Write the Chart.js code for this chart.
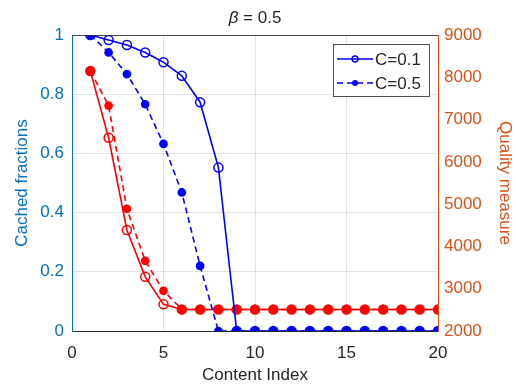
<!DOCTYPE html>
<html>
<head>
<meta charset="utf-8">
<script src="https://cdn.jsdelivr.net/npm/chart.js@4"></script>
<style>
    html, body { margin: 0; padding: 0; background: #fff; }
    #wrap { width: 516px; height: 385px; }
</style>
</head>
<body>
<div id="wrap"><canvas id="chart" width="516" height="385"></canvas></div>
<script>
// === Data ===
const contentIndex = [1, 2, 3, 4, 5, 6, 7, 8, 9, 10, 11, 12, 13, 14, 15, 16, 17, 18, 19, 20];
const cachedC01 = [1.0, 0.983, 0.966, 0.941, 0.908, 0.862, 0.773, 0.552, 0, 0, 0, 0, 0, 0, 0, 0, 0, 0, 0, 0];
const cachedC05 = [1.0, 0.941, 0.868, 0.766, 0.632, 0.468, 0.220, 0, 0, 0, 0, 0, 0, 0, 0, 0, 0, 0, 0, 0];
const qualityC01 = [8150, 6570, 4390, 3280, 2630, 2510, 2510, 2510, 2510, 2510, 2510, 2510, 2510, 2510, 2510, 2510, 2510, 2510, 2510, 2510];
const qualityC05 = [8150, 7330, 4890, 3660, 2950, 2510, 2510, 2510, 2510, 2510, 2510, 2510, 2510, 2510, 2510, 2510, 2510, 2510, 2510, 2510];
const leftTicks = [0, 0.2, 0.4, 0.6, 0.8, 1];
const rightTicks = [2000, 3000, 4000, 5000, 6000, 7000, 8000, 9000];
const xTicks = [0, 5, 10, 15, 20];

const BLUE_AXIS = '#0072BD';
const RED_AXIS = '#D95319';
const DARK = '#262626';
const GRID = 'rgba(38,38,38,0.13)';
const FONT = 'Liberation Sans, Arial, sans-serif';

const pts = vals => vals.map((v, i) => ({ x: contentIndex[i], y: v }));

function series(label, vals, color, axis, dashed, open) {
    return {
        label, data: pts(vals), yAxisID: axis,
        borderColor: color, borderWidth: 1.6,
        borderDash: dashed ? [6, 4] : [],
        pointRadius: open ? 4.5 : 3.6,
        pointHoverRadius: open ? 4.5 : 3.6,
        pointBorderWidth: 1.5,
        pointBorderColor: color,
        pointBackgroundColor: open ? 'rgba(0,0,0,0)' : color,
        tension: 0, fill: false,
    };
}

// title, top box line and in-plot legend
const extras = {
    id: 'extras',
    afterDraw(chart) {
        const { ctx, chartArea: a } = chart;
        ctx.save();
        // box top edge
        ctx.strokeStyle = DARK; ctx.lineWidth = 0.8;
        ctx.beginPath(); ctx.moveTo(a.left, a.top + 0.5); ctx.lineTo(a.right, a.top + 0.5); ctx.stroke();

        // title
        ctx.fillStyle = DARK; ctx.textBaseline = 'middle';
        const cx = (a.left + a.right) / 2;
        ctx.font = 'italic 17px ' + FONT;
        const wB = ctx.measureText('\u03B2').width;
        ctx.font = '17px ' + FONT;
        const rest = ' = 0.5';
        const wR = ctx.measureText(rest).width;
        let x0 = cx - (wB + wR) / 2;
        ctx.font = 'italic 17px ' + FONT;
        ctx.textAlign = 'left';
        ctx.fillText('\u03B2', x0, 18);
        ctx.font = '17px ' + FONT;
        ctx.fillText(rest, x0 + wB, 18);

        // legend
        const bx = 333, by = 44, bw = 96, bh = 52;
        ctx.fillStyle = '#fff'; ctx.fillRect(bx, by, bw, bh);
        ctx.strokeStyle = DARK; ctx.lineWidth = 0.8;
        ctx.strokeRect(bx + 0.5, by + 0.5, bw, bh);
        [0, 1].forEach(i => {
            const ds = chart.data.datasets[i];
            const y = by + 15 + i * 24;
            ctx.strokeStyle = ds.borderColor; ctx.lineWidth = 1.6;
            ctx.setLineDash(ds.borderDash);
            ctx.beginPath(); ctx.moveTo(bx + 4, y); ctx.lineTo(bx + 40, y); ctx.stroke();
            ctx.setLineDash([]);
            ctx.beginPath(); ctx.arc(bx + 22, y, 3, 0, Math.PI * 2);
            if (i === 0) { ctx.lineWidth = 1.3; ctx.stroke(); } else { ctx.fillStyle = ds.borderColor; ctx.fill(); }
            ctx.fillStyle = DARK; ctx.font = '17px ' + FONT;
            ctx.textAlign = 'left'; ctx.textBaseline = 'middle';
            ctx.fillText(ds.label, bx + 42, y + 1);
        });
        ctx.restore();
    }
};

new Chart(document.getElementById('chart'), {
    type: 'line',
    data: {
        datasets: [
            series('C=0.1', cachedC01, '#0000FF', 'y', false, true),
            series('C=0.5', cachedC05, '#0000FF', 'y', true, false),
            series('Quality C=0.1', qualityC01, '#FF0000', 'y1', false, true),
            series('Quality C=0.5', qualityC05, '#FF0000', 'y1', true, false),
        ]
    },
    options: {
        responsive: false,
        animation: false,
        events: [],
        layout: { padding: { top: 35, left: 0, right: 0, bottom: 0 } },
        plugins: { legend: { display: false }, title: { display: false }, tooltip: { enabled: false } },
        scales: {
            x: {
                type: 'linear', min: 0, max: 20,
                afterBuildTicks: s => { s.ticks = xTicks.map(v => ({ value: v })); },
                afterFit: s => { s.height = 54; },
                ticks: { color: DARK, font: { size: 17, family: FONT }, padding: 12, maxRotation: 0 },
                grid: { color: GRID, drawTicks: false },
                border: { color: DARK, width: 1 },
                title: { display: true, text: 'Content Index', color: DARK, font: { size: 17, family: FONT }, padding: { top: 0, bottom: -1 } },
            },
            y: {
                position: 'left', min: 0, max: 1,
                afterBuildTicks: s => { s.ticks = leftTicks.map(v => ({ value: v })); },
                afterFit: s => { s.width = 72; },
                ticks: { color: BLUE_AXIS, font: { size: 17, family: FONT }, padding: 8, callback: v => String(v) },
                grid: { color: GRID, drawTicks: false },
                border: { color: BLUE_AXIS, width: 1 },
                title: { display: true, text: 'Cached fractions', color: BLUE_AXIS, font: { size: 17, family: FONT }, padding: { top: 12, bottom: 0 } },
            },
            y1: {
                position: 'right', min: 2000, max: 9000,
                afterBuildTicks: s => { s.ticks = rightTicks.map(v => ({ value: v })); },
                afterFit: s => { s.width = 78; },
                ticks: { color: RED_AXIS, font: { size: 17, family: FONT }, padding: 6, callback: v => String(v) },
                grid: { display: false, drawTicks: false },
                border: { color: RED_AXIS, width: 1 },
                title: { display: true, text: 'Quality measure', color: RED_AXIS, font: { size: 17, family: FONT }, padding: { top: 1, bottom: 0 } },
            },
        }
    },
    plugins: [extras]
});
</script>
</body>
</html>
